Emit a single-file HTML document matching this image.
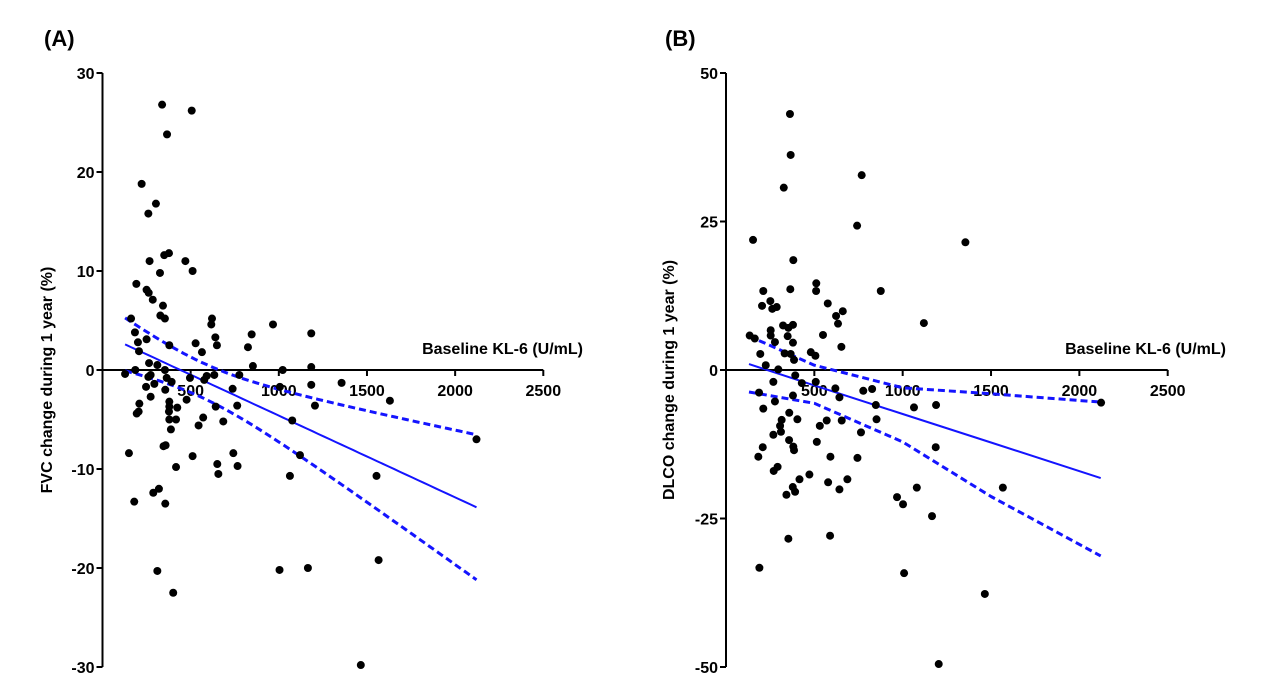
<!DOCTYPE html>
<html><head><meta charset="utf-8"><style>
html,body{margin:0;padding:0;background:#fff;}
svg{display:block;font-family:"Liberation Sans",Arial,sans-serif;font-weight:bold;}
</style></head><body>
<svg id="chart" width="1280" height="697" viewBox="0 0 1280 697" xmlns="http://www.w3.org/2000/svg">
<text x="44" y="46" font-size="22">(A)</text>
<text x="665" y="46" font-size="22">(B)</text>
<g id="pa"></g>
<g id="pb"></g>
</svg>
<script>
const aX=[338,506,366,222,303,260,267,350,377,470,511,326,192,250,262,285,343,328,354,162,184,201,207,250,379,621,617,640,649,528,564,846,825,967,1184,853,1184,1022,264,311,186,354,128,273,260,364,392,294,247,356,273,379,379,424,209,205,194,377,379,417,388,477,496,577,591,634,571,545,642,685,738,776,764,1006,1184,1205,1356,1630,1076,2121,150,511,742,1120,417,651,766,657,1063,1554,358,346,320,288,180,356,311,1004,1165,1566,401,1465];
const aY=[26.8,26.2,23.8,18.8,16.8,15.8,11.0,11.6,11.8,11.0,10.0,9.8,8.7,8.1,7.8,7.1,6.5,5.5,5.2,5.2,3.8,2.8,1.9,3.1,2.5,5.2,4.6,3.3,2.5,2.7,1.8,3.6,2.3,4.6,3.7,0.4,0.3,0,0.7,0.5,0,0,-0.4,-0.5,-0.7,-0.8,-1.2,-1.4,-1.7,-2.0,-2.7,-3.2,-3.7,-3.8,-3.4,-4.2,-4.4,-4.2,-5.0,-5.0,-6.0,-3.0,-0.8,-1.0,-0.6,-0.5,-4.8,-5.6,-3.7,-5.2,-1.9,-0.5,-3.6,-1.7,-1.5,-3.6,-1.3,-3.1,-5.1,-7.0,-8.4,-8.7,-8.4,-8.6,-9.8,-9.5,-9.7,-10.5,-10.7,-10.7,-7.6,-7.7,-12.0,-12.4,-13.3,-13.5,-20.3,-20.2,-20.0,-19.2,-22.5,-29.8];
const bX=[362,366,327,768,742,153,1355,381,511,510,364,211,876,251,204,262,287,576,661,623,634,1120,323,353,379,253,253,349,134,163,277,379,549,653,480,506,332,366,194,385,225,296,392,268,429,508,619,642,777,827,848,852,1064,1189,2123,187,211,277,379,358,404,315,306,311,268,531,570,655,764,514,357,381,385,208,183,591,744,1187,270,292,472,416,578,687,642,378,391,342,1080,1567,968,1002,1166,353,589,189,1008,1465,1204];
const bY=[43.1,36.2,30.7,32.8,24.3,21.9,21.5,18.5,14.6,13.3,13.6,13.3,13.3,11.6,10.8,10.3,10.6,11.2,9.9,9.1,7.8,7.9,7.5,7.1,7.6,6.7,5.8,5.7,5.8,5.3,4.7,4.6,5.9,3.9,3.0,2.4,2.8,2.7,2.7,1.7,0.8,0.1,-0.9,-2.0,-2.2,-2.0,-3.1,-4.6,-3.5,-3.2,-5.9,-8.3,-6.3,-5.9,-5.5,-3.8,-6.5,-5.3,-4.3,-7.2,-8.3,-8.4,-9.4,-10.4,-10.9,-9.4,-8.5,-8.5,-10.5,-12.1,-11.8,-12.9,-13.5,-13.0,-14.6,-14.6,-14.8,-13.0,-17.0,-16.3,-17.6,-18.4,-18.9,-18.4,-20.1,-19.7,-20.5,-21.0,-19.8,-19.8,-21.4,-22.6,-24.6,-28.4,-27.9,-33.3,-34.2,-37.7,-49.5];
const bLineX=[130,500,1000,1500,2121];
const bFit=[1.0,-2.6,-7.4,-12.2,-18.2];
const bUpper=[5.7,0.8,-3.0,-4.0,-5.4];
const bLower=[-3.7,-5.6,-12.1,-21.3,-31.3];
const aYTicks=[30,20,10,0,-10,-20,-30];
const bYTicks=[50,25,0,-25,-50];
const xTicks=[500,1000,1500,2000,2500];
const NS="http://www.w3.org/2000/svg";
function mk(p,t,a){const e=document.createElementNS(NS,t);for(const k in a)e.setAttribute(k,a[k]);p.appendChild(e);return e;}
function panel(g,X,Y,o){
  const sx=v=>o.x0+v*(o.x1-o.x0)/2500;
  const sy=v=>o.yz-v*o.k;
  const top=sy(o.ymax),bot=sy(-o.ymax);
  let e=mk(g,'line',{x1:o.x0,y1:top,x2:o.x0,y2:bot,stroke:'#000','stroke-width':2});
  
  e=mk(g,'line',{x1:o.x0,y1:o.yz,x2:o.x1,y2:o.yz,stroke:'#000','stroke-width':2});
  
  o.yt.forEach(v=>{
    mk(g,'line',{x1:o.x0-6,y1:sy(v),x2:o.x0,y2:sy(v),stroke:'#000','stroke-width':2});
    const t=mk(g,'text',{x:o.x0-8,y:sy(v)+6,'text-anchor':'end','font-size':16});
    t.textContent=v;
    
    
  });
  xTicks.forEach(v=>{
    mk(g,'line',{x1:sx(v),y1:o.yz,x2:sx(v),y2:o.yz+6,stroke:'#000','stroke-width':2});
    const t=mk(g,'text',{x:sx(v),y:o.yz+26,'text-anchor':'middle','font-size':16});
    t.textContent=v;
    
    
  });
  let t=mk(g,'text',{x:o.tx,y:354,'text-anchor':'end','font-size':16});
  t.textContent='Baseline KL-6 (U/mL)';
  
  
  t=mk(g,'text',{x:0,y:0,'text-anchor':'middle','font-size':16,transform:`translate(${o.lx},${o.ly}) rotate(-90)`});
  t.textContent=o.label;
  
  
  let up='',lo='',fit='';
  if(o.lines){
    const L=o.lines;
    L.x.forEach((x,j)=>{const c=j?'L':'M';
      up+=c+sx(x).toFixed(1)+','+sy(L.up[j]).toFixed(1);
      lo+=c+sx(x).toFixed(1)+','+sy(L.lo[j]).toFixed(1);
      fit+=c+sx(x).toFixed(1)+','+sy(L.fit[j]).toFixed(1);});
  } else {
    const n=X.length;let mx=0,my=0;for(let i=0;i<n;i++){mx+=X[i];my+=Y[i];}mx/=n;my/=n;
    let sxx=0,sxy=0;for(let i=0;i<n;i++){sxx+=(X[i]-mx)**2;sxy+=(X[i]-mx)*(Y[i]-my);}
    const b=sxy/sxx,a=my-b*mx;let sse=0;for(let i=0;i<n;i++)sse+=(Y[i]-a-b*X[i])**2;
    const s=Math.sqrt(sse/(n-2)),tq=1.985;
    const xmin=Math.min(...X),xmax=Math.max(...X);
    for(let j=0;j<=60;j++){const x=xmin+(xmax-xmin)*j/60;const f=a+b*x;const h=tq*s*Math.sqrt(1/n+(x-mx)**2/sxx);
      const c=j?'L':'M';up+=c+sx(x).toFixed(1)+','+sy(f+h).toFixed(1);lo+=c+sx(x).toFixed(1)+','+sy(f-h).toFixed(1);fit+=c+sx(x).toFixed(1)+','+sy(f).toFixed(1);}
  }
  e=mk(g,'path',{d:fit,stroke:'#1414ff','stroke-width':2,fill:'none'});
  
  e=mk(g,'path',{d:up,stroke:'#1414ff','stroke-width':3,fill:'none','stroke-dasharray':'7,4','stroke-linejoin':'round'});
  
  e=mk(g,'path',{d:lo,stroke:'#1414ff','stroke-width':3,fill:'none','stroke-dasharray':'7,4','stroke-linejoin':'round'});
  
  for(let i=0;i<X.length;i++){
    const c=mk(g,'circle',{cx:sx(X[i]),cy:sy(Y[i]),r:4,fill:'#000'});
    
    
  }
}
panel(document.getElementById('pa'),aX,aY,{x0:102.5,x1:543.3,yz:370,k:9.9,ymax:30,yt:aYTicks,tx:583,lx:52,ly:380,label:'FVC change during 1 year (%)'});
panel(document.getElementById('pb'),bX,bY,{x0:726,x1:1167.7,yz:370,k:5.94,ymax:50,yt:bYTicks,tx:1226,lx:674,ly:380,label:'DLCO change during 1 year (%)',lines:{x:bLineX,fit:bFit,up:bUpper,lo:bLower}});
</script>
</body></html>
